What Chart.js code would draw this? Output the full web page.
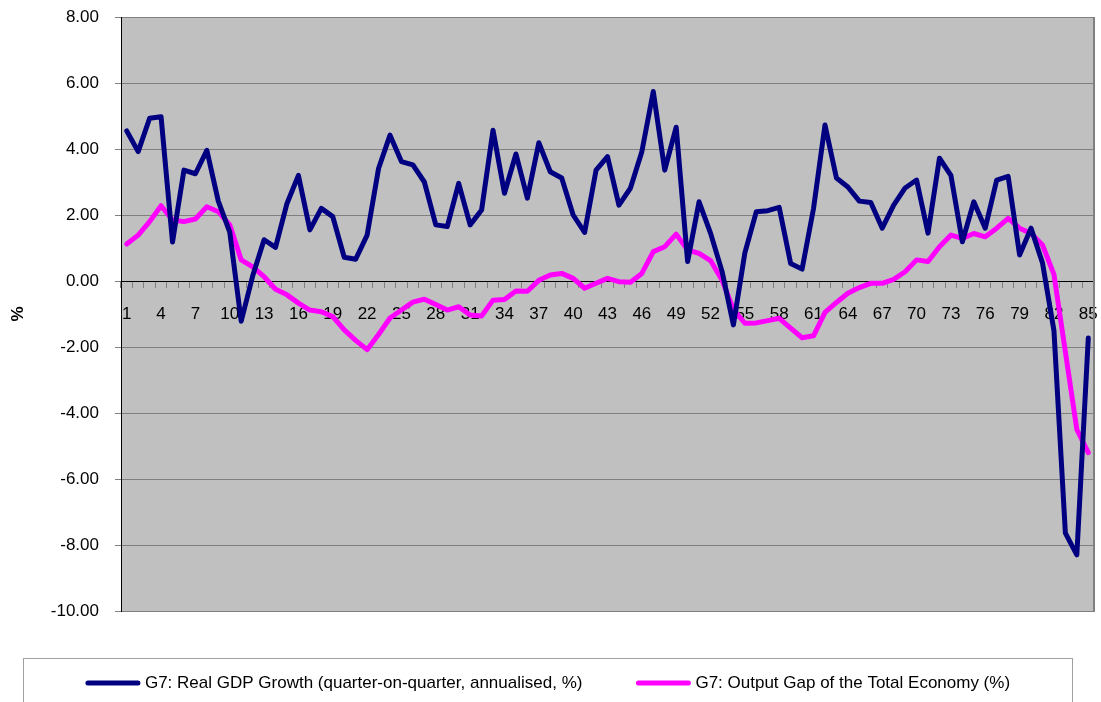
<!DOCTYPE html>
<html>
<head>
<meta charset="utf-8">
<title>G7 Real GDP Growth and Output Gap</title>
<script src="https://cdn.jsdelivr.net/npm/chart.js@4.4.1/dist/chart.umd.min.js"></script>
<style>
  html, body { margin: 0; padding: 0; background: #fff; }
  #wrap { width: 1101px; height: 702px; }
</style>
</head>
<body>
<div id="wrap"><canvas id="chart" width="1101" height="702"></canvas></div>
<script>
"use strict";

const FONT = "'Liberation Sans', Arial, sans-serif";

const quarters = [
  "1", "2", "3", "4", "5", "6", "7", "8", "9", "10",
  "11", "12", "13", "14", "15", "16", "17", "18", "19", "20",
  "21", "22", "23", "24", "25", "26", "27", "28", "29", "30",
  "31", "32", "33", "34", "35", "36", "37", "38", "39", "40",
  "41", "42", "43", "44", "45", "46", "47", "48", "49", "50",
  "51", "52", "53", "54", "55", "56", "57", "58", "59", "60",
  "61", "62", "63", "64", "65", "66", "67", "68", "69", "70",
  "71", "72", "73", "74", "75", "76", "77", "78", "79", "80",
  "81", "82", "83", "84", "85"
];

// G7: Real GDP Growth (quarter-on-quarter, annualised, %)
const gdpGrowth = [
  4.55, 3.92, 4.93, 4.98, 1.18, 3.36, 3.25, 3.96, 2.42, 1.48,
  -1.22, 0.15, 1.25, 1.02, 2.35, 3.2, 1.55, 2.2, 1.95, 0.72,
  0.66, 1.39, 3.41, 4.42, 3.62, 3.52, 3.0, 1.7, 1.65, 2.96,
  1.7, 2.15, 4.57, 2.66, 3.85, 2.51, 4.19, 3.31, 3.12, 2.0,
  1.47, 3.36, 3.77, 2.3, 2.81, 3.92, 5.74, 3.36, 4.66, 0.59,
  2.4, 1.45, 0.3, -1.33, 0.85, 2.1, 2.13, 2.23, 0.53, 0.36,
  2.2, 4.73, 3.12, 2.85, 2.42, 2.38, 1.6, 2.3, 2.82, 3.06,
  1.45, 3.72, 3.2, 1.19, 2.4, 1.6, 3.06, 3.17, 0.79, 1.6,
  0.55, -1.5, -7.64, -8.3, -1.73
];

// G7: Output Gap of the Total Economy (%)
const outputGap = [
  1.12, 1.39, 1.8, 2.28, 1.85, 1.8, 1.88, 2.25, 2.1, 1.7,
  0.64, 0.43, 0.13, -0.25, -0.42, -0.67, -0.88, -0.93, -1.08, -1.48,
  -1.8, -2.08, -1.62, -1.12, -0.88, -0.64, -0.55, -0.71, -0.88, -0.78,
  -1.03, -1.06, -0.58, -0.56, -0.3, -0.31, 0.02, 0.18, 0.23, 0.08,
  -0.22, -0.07, 0.08, -0.02, -0.04, 0.23, 0.89, 1.04, 1.42, 0.94,
  0.84, 0.62, 0.03, -0.86, -1.28, -1.27, -1.2, -1.13, -1.43, -1.72,
  -1.66, -0.95, -0.65, -0.37, -0.2, -0.07, -0.07, 0.05, 0.28, 0.64,
  0.59, 1.04, 1.39, 1.29, 1.44, 1.34, 1.6, 1.9, 1.6, 1.44,
  1.09, 0.2, -2.15, -4.5, -5.2
];

const yTicks = [-10, -8, -6, -4, -2, 0, 2, 4, 6, 8];

function clearScalePadding(scale) {
  scale.paddingTop = 0;
  scale.paddingBottom = 0;
  scale.paddingLeft = 0;
  scale.paddingRight = 0;
}

const plotFrame = {
  id: "plotFrame",
  beforeDraw(chart) {
    const { ctx, chartArea: a } = chart;
    ctx.save();
    ctx.fillStyle = "#ffffff";
    ctx.fillRect(0, 0, chart.width, chart.height);
    ctx.fillStyle = "#c0c0c0";
    ctx.fillRect(a.left, a.top, a.right - a.left, a.bottom - a.top);
    ctx.restore();
  },
  beforeDatasetsDraw(chart) {
    const { ctx, chartArea: a } = chart;
    ctx.save();
    ctx.strokeStyle = "#808080";
    ctx.lineWidth = 2;
    ctx.beginPath();
    ctx.moveTo(a.right, a.top);
    ctx.lineTo(a.right, a.bottom + 1);
    ctx.stroke();
    ctx.restore();
  }
};

// Excel-style legend in a bordered box under the plot
const boxLegend = {
  id: "boxLegend",
  afterDraw(chart) {
    const { ctx, chartArea: a } = chart;
    const sets = chart.data.datasets;
    const boxTop = a.bottom + 47.5;
    const boxLeft = 23.5;
    const boxRight = 1072.5;
    const midY = boxTop + 24.5;
    const lineLen = 54;
    const textGap = 5;
    const itemGap = 54;

    ctx.save();
    ctx.strokeStyle = "#a0a0a0";
    ctx.lineWidth = 1;
    ctx.strokeRect(boxLeft, boxTop, boxRight - boxLeft, 80);

    ctx.font = `17px ${FONT}`;
    const widths = sets.map((ds) => ctx.measureText(ds.label).width);
    const total = widths.reduce((sum, w) => sum + lineLen + textGap + w, 0) + itemGap * (sets.length - 1);
    let x = (boxLeft + boxRight) / 2 - total / 2;

    sets.forEach((ds, i) => {
      ctx.strokeStyle = ds.borderColor;
      ctx.lineWidth = 5;
      ctx.lineCap = "round";
      ctx.beginPath();
      ctx.moveTo(x + 2, midY);
      ctx.lineTo(x + lineLen - 2, midY);
      ctx.stroke();
      x += lineLen + textGap;
      ctx.fillStyle = "#000";
      ctx.textBaseline = "middle";
      ctx.textAlign = "left";
      ctx.fillText(ds.label, x, midY);
      x += widths[i] + itemGap;
    });
    ctx.restore();
  }
};

window.addEventListener("DOMContentLoaded", () => {
  const canvas = document.getElementById("chart");

  new Chart(canvas, {
    type: "line",
    data: {
      labels: quarters,
      datasets: [
        {
          label: "G7: Real GDP Growth (quarter-on-quarter, annualised, %)",
          data: gdpGrowth,
          borderColor: "#000080",
          backgroundColor: "#000080",
          borderWidth: 5,
          pointRadius: 0,
          tension: 0,
          fill: false,
          borderJoinStyle: "round",
          borderCapStyle: "round"
        },
        {
          label: "G7: Output Gap of the Total Economy (%)",
          data: outputGap,
          borderColor: "#ff00ff",
          backgroundColor: "#ff00ff",
          borderWidth: 5,
          pointRadius: 0,
          tension: 0,
          fill: false,
          borderJoinStyle: "round",
          borderCapStyle: "round"
        }
      ]
    },
    options: {
      responsive: false,
      animation: false,
      devicePixelRatio: 1,
      layout: { padding: { top: 17, right: 7, bottom: 91, left: 0 } },
      plugins: {
        legend: { display: false },
        tooltip: { enabled: false }
      },
      scales: {
        x: {
          type: "category",
          position: { y: 0 },
          offset: true,
          afterFit: clearScalePadding,
          border: { color: "#000000", width: 1 },
          grid: {
            offset: true,
            drawOnChartArea: false,
            drawTicks: true,
            tickLength: 6,
            color: "#808080"
          },
          ticks: {
            autoSkip: false,
            maxRotation: 0,
            minRotation: 0,
            padding: 17,
            color: "#000",
            font: { family: FONT, size: 17 },
            callback(value, index) {
              return index % 3 === 0 ? this.getLabelForValue(value) : "";
            }
          }
        },
        y: {
          min: -10,
          max: 8,
          afterBuildTicks: (scale) => {
            scale.ticks = yTicks.map((v) => ({ value: v }));
          },
          afterFit: (scale) => {
            scale.width = 121;
            clearScalePadding(scale);
          },
          border: { color: "#000000", width: 1 },
          grid: { color: "#808080", lineWidth: 1, tickLength: 6 },
          ticks: {
            padding: 16,
            color: "#000",
            font: { family: FONT, size: 17 },
            callback: (v) => Number(v).toFixed(2)
          },
          title: {
            display: true,
            text: "%",
            color: "#000",
            font: { family: FONT, size: 17, weight: "bold" },
            padding: { top: 8, bottom: 0 }
          }
        }
      }
    },
    plugins: [plotFrame, boxLegend]
  });
});
</script>
</body>
</html>
